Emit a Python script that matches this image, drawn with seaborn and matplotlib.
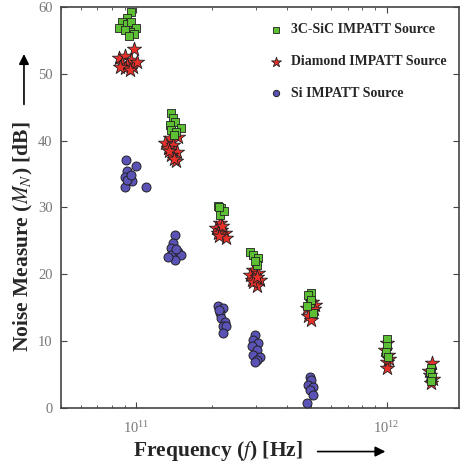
import numpy as np
import pandas as pd
import seaborn as sns
import matplotlib.pyplot as plt

# values (frequency in units of 1e11 Hz, noise in dB)
sic_f = [0.949, 0.923, 0.881, 0.915, 0.949, 0.994, 0.857, 0.941, 0.984, 0.898, 0.932,
         1.380, 1.397, 1.423, 1.359, 1.515, 1.380, 1.446, 1.410,
         2.114, 2.189, 2.153, 2.233, 2.134,
         2.84, 2.92, 3.06, 3.03, 2.99,
         5.01, 4.85, 4.94, 5.07, 4.99, 4.80,
         10.01, 10.01, 9.93, 10.10,
         15.04, 14.90, 15.18, 15.04]
sic_n = [59.3, 58.3, 57.8, 57.5, 57.8, 56.8, 56.8, 56.2, 56.0, 56.5, 55.6,
         44.2, 43.4, 42.8, 42.3, 41.9, 41.6, 41.3, 40.9,
         30.2, 29.9, 28.9, 29.5, 30.0,
         23.4, 22.9, 22.4, 21.4, 22.0,
         17.2, 16.9, 15.7, 14.2, 16.2, 15.2,
         10.3, 9.2, 8.4, 7.6,
         6.0, 5.4, 4.6, 4.0]

dia_f = [0.984, 0.857, 0.906, 0.949, 0.881, 0.923, 0.975, 0.898, 0.941, 1.003, 0.865,
         1.359, 1.463, 1.298, 1.397, 1.335, 1.450, 1.380, 1.446, 1.347, 1.410,
         2.153, 2.089, 2.189, 2.253, 2.114, 2.290, 2.193, 2.134,
         2.92, 2.84, 3.06, 2.89, 3.11, 3.03, 2.94, 3.04,
         5.03, 5.17, 4.80, 5.03, 4.85, 5.01, 5.12,
         10.01, 9.86, 10.10, 10.00, 10.01, 10.20,
         15.18, 14.90, 15.32, 15.04, 14.77]
dia_n = [53.7, 52.3, 52.6, 52.0, 51.5, 51.3, 51.0, 50.8, 50.5, 51.8, 51.0,
         40.4, 40.6, 39.7, 39.4, 38.9, 38.3, 37.9, 36.9, 38.5, 37.3,
         27.7, 26.9, 26.6, 26.2, 26.2, 25.4, 27.2, 25.8,
         20.6, 19.9, 20.2, 19.2, 19.2, 18.2, 18.8, 19.6,
         15.8, 15.4, 15.0, 14.4, 13.7, 13.2, 14.8,
         9.7, 8.7, 8.0, 6.9, 6.0, 7.4,
         6.8, 5.0, 4.4, 3.8, 5.6]

si_f = [0.912, 1.000, 0.923, 0.898, 0.966, 0.898, 1.096, 0.923, 0.949,
        1.423, 1.397, 1.380, 1.463, 1.380, 1.515, 1.423, 1.335, 1.436,
        2.114, 2.213, 2.153, 2.189, 2.253, 2.213, 2.290, 2.213, 2.134,
        2.99, 2.94, 3.06, 2.89, 3.03, 2.94, 3.11, 3.03, 2.99,
        4.94, 5.01, 4.85, 5.07, 4.94, 5.07, 4.80]
si_n = [37.1, 36.2, 35.4, 34.6, 33.9, 33.1, 33.1, 34.1, 34.9,
        25.9, 24.7, 23.9, 23.3, 22.9, 22.9, 22.1, 22.6, 23.8,
        15.2, 15.0, 14.2, 13.5, 12.9, 12.2, 12.2, 11.2, 14.6,
        10.9, 10.2, 9.7, 9.2, 8.7, 7.9, 7.7, 7.2, 6.9,
        4.7, 4.2, 3.4, 3.2, 2.7, 1.9, 0.7]

labels = ["3C-SiC IMPATT Source", "Diamond IMPATT Source", "Si IMPATT Source"]

sic = pd.DataFrame({"f": np.array(sic_f) * 1e11, "n": sic_n})
dia = pd.DataFrame({"f": np.array(dia_f) * 1e11, "n": dia_n})
si = pd.DataFrame({"f": np.array(si_f) * 1e11, "n": si_n})

sns.set_style("ticks")
plt.rcParams["font.family"] = ["Liberation Serif", "DejaVu Serif"]
plt.rcParams["mathtext.fontset"] = "stix"

fig = plt.figure(figsize=(4.61, 4.66), dpi=100)
ax = fig.add_axes([0.132, 0.1245, 0.864, 0.8605])

sns.scatterplot(data=si, x="f", y="n", ax=ax, marker="o", s=42, color="#5a52b5",
                edgecolor="#222222", linewidth=0.7, label=labels[2], zorder=3)
sns.scatterplot(data=dia, x="f", y="n", ax=ax, marker="*", s=115, color="#e8302a",
                edgecolor="#222222", linewidth=0.6, label=labels[1], zorder=4)
sns.scatterplot(data=sic, x="f", y="n", ax=ax, marker="s", s=30, color="#5cbf34",
                edgecolor="#222222", linewidth=0.6, label=labels[0], zorder=5)

ax.set_xscale("log")
ax.set_xlim(5e10, 1.95e12)
ax.set_ylim(0, 60)
ax.set_yticks(range(0, 61, 10))
ax.set_xlabel("")
ax.set_ylabel("")

for s in ax.spines.values():
    s.set_color("#444444")
    s.set_linewidth(1.2)
ax.tick_params(which="both", direction="in", top=True, right=True, colors="#444444",
               labelcolor="#777777", labelsize=10.5)
ax.tick_params(which="major", length=4)
ax.tick_params(which="minor", length=2.5)
ax.tick_params(axis="x", which="both", pad=9)
ax.tick_params(axis="y", which="both", pad=6)

h, l = ax.get_legend_handles_labels()
order = [l.index(t) for t in labels]
ax.legend([h[i] for i in order], labels, loc="upper right", bbox_to_anchor=(1.0, 0.99),
          frameon=False, labelspacing=1.35, handletextpad=0.1, markerscale=0.7,
          prop={"weight": "bold", "size": 10})

# axis labels with arrows
fig.text(0.289, 0.022, "Frequency ($\\mathit{f}$) [Hz]", fontsize=15.5, fontweight="bold",
         ha="left", va="baseline")
ax.annotate("", xy=(0.842, 0.031), xytext=(0.683, 0.031), xycoords="figure fraction",
            arrowprops=dict(arrowstyle="-|>", color="black", lw=1.2, mutation_scale=15))
fig.text(0.052, 0.245, "Noise Measure ($\\mathit{M_N}$) [dB]", fontsize=15.5, fontweight="bold",
         rotation=90, ha="center", va="bottom")
ax.annotate("", xy=(0.052, 0.89), xytext=(0.052, 0.77), xycoords="figure fraction",
            arrowprops=dict(arrowstyle="-|>", color="black", lw=1.2, mutation_scale=15))

plt.savefig("out.png", dpi=100)
